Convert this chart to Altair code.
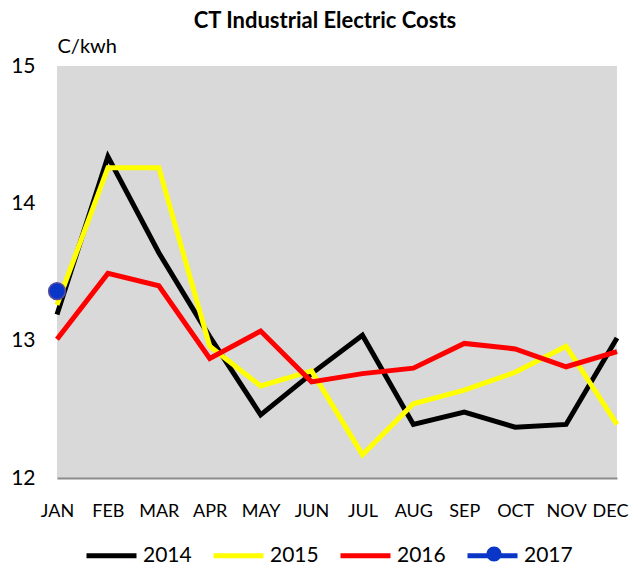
import altair as alt
import pandas as pd

months = ["JAN", "FEB", "MAR", "APR", "MAY", "JUN", "JUL", "AUG", "SEP", "OCT", "NOV", "DEC"]
series_names = ["2014", "2015", "2016", "2017"]
v2014 = [13.19, 14.34, 13.64, 13.03, 12.46, 12.76, 13.04, 12.39, 12.48, 12.37, 12.39, 13.02]
v2015 = [13.26, 14.26, 14.26, 12.96, 12.67, 12.78, 12.17, 12.54, 12.64, 12.77, 12.96, 12.39]
v2016 = [13.01, 13.49, 13.40, 12.87, 13.07, 12.70, 12.76, 12.80, 12.98, 12.94, 12.81, 12.92]
v2017 = [13.36]
colors = ["#000000", "#ffff00", "#ff0000", "#0a36c8"]

rows = []
for name, vals in zip(series_names, [v2014, v2015, v2016, v2017]):
    for i, v in enumerate(vals):
        rows.append({"month": months[i], "series": name, "value": v, "order": i})
df = pd.DataFrame(rows)

FONT = "Lato"
LEG_X, LEG_Y, ENTRY = 27, 462, 127

x_enc = alt.X(
    "month:N",
    sort=months,
    scale=alt.Scale(domain=months, padding=0),
    axis=alt.Axis(
        title=None, labelAngle=0, labelFontSize=18, labelFont=FONT, labelColor="#000000",
        labelPadding=24, ticks=False, domainColor="#8c8c8c", domainWidth=2, grid=False,
        labelOffset={"condition": {"test": "datum.label == 'DEC'", "value": -7}, "value": 0},
    ),
)
y_enc = alt.Y(
    "value:Q",
    scale=alt.Scale(domain=[12, 15], nice=False, zero=False),
    axis=alt.Axis(
        values=[12, 13, 14, 15], title="C/kwh", titleAngle=0, titleAlign="left",
        titleBaseline="alphabetic", titleX=0, titleY=-14, titleFontSize=20,
        titleFont=FONT, titleFontWeight="normal", titleColor="#000000",
        labelFontSize=21, labelFont=FONT, labelColor="#000000", labelPadding=22,
        ticks=False, domain=False, grid=False,
    ),
)

legend_main = alt.Legend(
    title=None, orient="none", legendX=LEG_X, legendY=LEG_Y, direction="horizontal",
    symbolType="stroke", symbolSize=2500, labelFontSize=21, labelFont=FONT,
    labelColor="#000000", labelOffset=4, columnPadding=11, symbolStrokeWidth=5,
)

lines = alt.Chart().transform_filter(alt.datum.series != "2017").mark_line(
    strokeWidth=5
).encode(
    x=x_enc,
    y=y_enc,
    color=alt.Color("series:N", scale=alt.Scale(domain=series_names, range=colors), legend=legend_main),
    order="order:Q",
)

# legend-only overlay: the round marker of the 2017 entry
dot_path = "M0.3,0A0.3,0.3,0,1,1,-0.3,0A0.3,0.3,0,1,1,0.3,0Z"
legend_dot = alt.Legend(
    title=None, orient="none", legendX=LEG_X + 3 * ENTRY + 3, legendY=LEG_Y, direction="horizontal",
    symbolSize=2500, labelFontSize=21, labelFont=FONT, labelOffset=4, labelOpacity=0,
    symbolFillColor="#0a36c8", symbolStrokeColor="#5a4f9a", symbolStrokeWidth=1.2,
    symbolOpacity=1, zindex=2,
)
leg = alt.Chart().transform_filter(alt.datum.series == "2017").mark_point(
    filled=True, size=60, fill="#0a36c8", stroke="#5a4f9a", strokeWidth=1.2, opacity=1
).encode(
    x=x_enc,
    y=y_enc,
    shape=alt.Shape("series:N", scale=alt.Scale(domain=["2017"], range=[dot_path]),
                    legend=legend_dot),
)

pt = alt.Chart().transform_filter(alt.datum.series == "2017").mark_point(
    filled=True, size=280, shape="circle", fill="#0a36c8", stroke="#5a4f9a",
    strokeWidth=1.5, opacity=1
).encode(x=x_enc, y=y_enc)

chart = alt.layer(lines, leg, pt, data=df).properties(
    width=560,
    height=412,
    padding={"left": 49, "top": 58, "right": 13, "bottom": 87},
    autosize=alt.AutoSizeParams(type="none"),
    background="white",
    title=alt.TitleParams(
        "CT Industrial Electric Costs", font=FONT, fontSize=22, fontWeight="bold",
        color="#000000", anchor="middle", dx=-12, offset=3,
    ),
).configure_view(fill="#d9d9d9", stroke=None)

chart.save("out.html", embed_options={"renderer": "svg", "actions": False})
